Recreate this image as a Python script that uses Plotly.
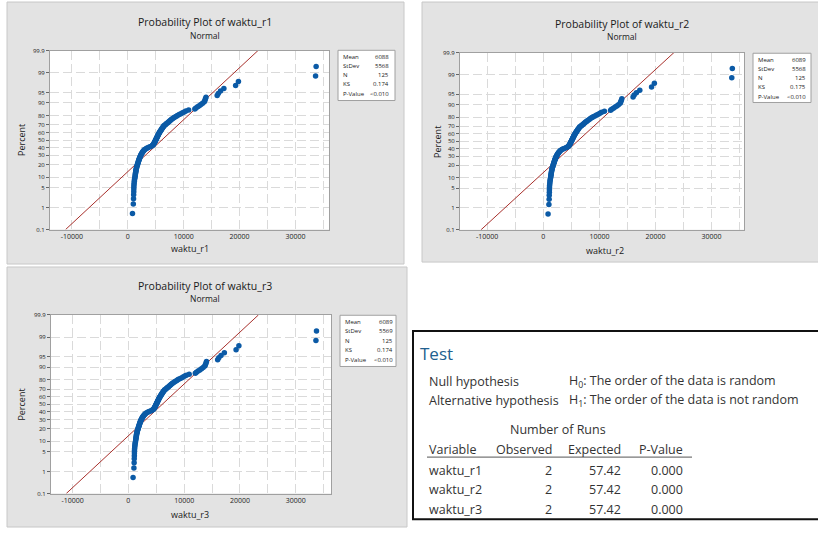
import plotly.graph_objects as go
from statistics import NormalDist

W, H = 818, 533
nd = NormalDist()

waktu_r1 = [850, 1000, 1040, 1060, 1080, 1090, 1100, 1120, 1150, 1180,
            1210, 1250, 1300, 1330, 1360, 1390, 1420, 1450, 1480, 1510,
            1550, 1590, 1630, 1680, 1730, 1780, 1820, 1870, 1910, 1960,
            2000, 2040, 2090, 2130, 2180, 2230, 2280, 2340, 2400, 2460,
            2530, 2600, 2680, 2760, 2850, 2950, 3050, 3200, 3400, 3600,
            3850, 4100, 4300, 4450, 4550, 4620, 4680, 4740, 4800, 4850,
            4900, 4950, 5000, 5050, 5100, 5150, 5200, 5250, 5300, 5350,
            5400, 5450, 5500, 5560, 5620, 5680, 5750, 5820, 5890, 5960,
            6030, 6100, 6180, 6260, 6340, 6420, 6500, 6700, 6800, 6950,
            7100, 7250, 7400, 7550, 7700, 7850, 8050, 8250, 8450, 8700,
            8900, 9200, 9500, 9800, 10100, 10400, 10900, 12000, 12200, 12500,
            12800, 13100, 13400, 13700, 13800, 13900, 14000, 16000, 16200, 16600,
            17200, 19300, 19800, 33600, 33700]
waktu_r2 = list(waktu_r1)
waktu_r3 = list(waktu_r1)

series_names = ["waktu_r1", "waktu_r2", "waktu_r3"]
series_values = [waktu_r1, waktu_r2, waktu_r3]
stats_labels = ["Mean", "StDev", "N", "KS", "P-Value"]
stats_r1 = ["6088", "5568", "125", "0.174", "<0.010"]
stats_r2 = ["6089", "5568", "125", "0.175", "<0.010"]
stats_r3 = ["6089", "5569", "125", "0.174", "<0.010"]
stats_all = [stats_r1, stats_r2, stats_r3]
fit_mean = [6088, 6089, 6089]
fit_sd = [5568, 5568, 5569]

pct_ticks = [0.1, 1, 5, 10, 20, 30, 40, 50, 60, 70, 80, 90, 95, 99, 99.9]
pct_labels = ["0.1", "1", "5", "10", "20", "30", "40", "50", "60", "70",
              "80", "90", "95", "99", "99.9"]
x_ticks = [-10000, 0, 10000, 20000, 30000]
x_labels = ["-10000", "0", "10000", "20000", "30000"]
x_minor = [-5000, 5000, 15000, 25000, 35000]

test_vars = ["waktu_r1", "waktu_r2", "waktu_r3"]
runs_observed = [2, 2, 2]
runs_expected = [57.42, 57.42, 57.42]
runs_pvalue = [0.000, 0.000, 0.000]

# ---- layout geometry (pixels) ----
panels = [
    dict(plot=(50, 329, 47.3, 229), bg=(7, 404, -2, 264), title=(205, 18, 32),
         xt=(190, 248), yt=(22, 138), box=(338, 395, 47, 98), lab_x=340.5,
         val_x=391, rows=[54, 63.3, 72.3, 81.7, 91.7], xr=(-13900, 36000)),
    dict(plot=(460, 744, 49.3, 229.3), bg=(422, 822, -2, 262), title=(621.7, 20, 33),
         xt=(605, 250.7), yt=(438, 140), box=(753, 811, 50, 100), lab_x=756,
         val_x=807.5, rows=[56.7, 66, 75, 84.3, 94.3], xr=(-14850, 35780)),
    dict(plot=(51, 331, 315.7, 497), bg=(7, 407, 267, 531), title=(205, 286, 299),
         xt=(190, 518), yt=(22, 406.7), box=(340, 396, 316, 368), lab_x=342.5,
         val_x=394.5, rows=[322.7, 332, 341.7, 351, 361], xr=(-13850, 36300)),
]


def px(x):
    return x / W


def py(y):
    return 1 - y / H


FONT = "Open Sans"
GRID = dict(gridcolor="#dadada", gridwidth=1.2, griddash="9px,4px")
zlo, zhi = nd.inv_cdf(0.001), nd.inv_cdf(0.999)
y_tickvals = [nd.inv_cdf(p / 100) for p in pct_ticks]

fig = go.Figure()
shapes = []
annotations = []

for k, (name, vals, pan) in enumerate(zip(series_names, series_values, panels)):
    n = len(vals)
    srt = sorted(vals)
    zpos = [nd.inv_cdf((i + 1 - 0.3) / (n + 0.4)) for i in range(n)]
    xa = "x" if k == 0 else f"x{k+1}"
    ya = "y" if k == 0 else f"y{k+1}"
    xl = "xaxis" if k == 0 else f"xaxis{k+1}"
    yl = "yaxis" if k == 0 else f"yaxis{k+1}"
    m, s = fit_mean[k], fit_sd[k]
    fig.add_trace(go.Scatter(x=[m + s * zlo, m + s * zhi], y=[zlo, zhi], mode="lines",
                             line=dict(color="#a8302c", width=1), xaxis=xa, yaxis=ya,
                             showlegend=False, hoverinfo="skip"))
    fig.add_trace(go.Scatter(x=srt, y=zpos, mode="markers",
                             marker=dict(color="#0b5aa6", size=5.5, line=dict(width=0)),
                             xaxis=xa, yaxis=ya, showlegend=False, name=name))
    x0, x1, y0, y1 = pan["plot"]
    fig.update_layout(**{
        xl: dict(domain=[px(x0), px(x1)], range=list(pan["xr"]), anchor=ya,
                 tickvals=x_ticks, ticktext=x_labels, ticks="", showgrid=True, **GRID,
                 minor=dict(tickvals=x_minor, showgrid=True, ticks="", **GRID),
                 zeroline=False, showline=True, linecolor="#a0a0a0", linewidth=1,
                 mirror=True, tickfont=dict(family=FONT, size=7, color="#222222")),
        yl: dict(domain=[py(y1), py(y0)], range=[zlo, zhi], anchor=xa,
                 tickvals=y_tickvals, ticktext=pct_labels, ticks="outside", ticklen=3,
                 tickcolor="#666666", showgrid=True, **GRID, zeroline=False,
                 showline=True, linecolor="#a0a0a0", linewidth=1, mirror=True,
                 tickfont=dict(family=FONT, size=6, color="#222222")),
    })
    bx0, bx1, by0, by1 = pan["bg"]
    shapes.append(dict(type="rect", xref="paper", yref="paper", x0=px(bx0), x1=px(bx1),
                       y0=py(by1), y1=py(by0), fillcolor="#e3e3e3",
                       line=dict(color="#c8c8c8", width=1), layer="below"))
    shapes.append(dict(type="rect", xref="paper", yref="paper", x0=px(x0), x1=px(x1),
                       y0=py(y1), y1=py(y0), fillcolor="white", line=dict(width=0),
                       layer="below"))
    # titles
    tx, ty1, ty2 = pan["title"]
    annotations.append(dict(x=px(tx), y=py(ty1), xref="paper", yref="paper",
                            text=f"Probability Plot of {name}", showarrow=False,
                            font=dict(family=FONT, size=10.5, color="#1a1a1a"),
                            xanchor="center", yanchor="middle"))
    annotations.append(dict(x=px(tx), y=py(ty2), xref="paper", yref="paper",
                            text="Normal", showarrow=False,
                            font=dict(family=FONT, size=8.5, color="#1a1a1a"),
                            xanchor="center", yanchor="middle"))
    annotations.append(dict(x=px(pan["xt"][0]), y=py(pan["xt"][1]), xref="paper",
                            yref="paper", text=name, showarrow=False,
                            font=dict(family=FONT, size=9, color="#1a1a1a"),
                            xanchor="center", yanchor="middle"))
    annotations.append(dict(x=px(pan["yt"][0]), y=py(pan["yt"][1]), xref="paper",
                            yref="paper", text="Percent", showarrow=False, textangle=-90,
                            font=dict(family=FONT, size=9, color="#1a1a1a"),
                            xanchor="center", yanchor="middle"))
    # stats box
    sx0, sx1, sy0, sy1 = pan["box"]
    shapes.append(dict(type="rect", xref="paper", yref="paper", x0=px(sx0), x1=px(sx1),
                       y0=py(sy1), y1=py(sy0), fillcolor="white",
                       line=dict(color="#a0a0a0", width=1)))
    for lab, val, ry in zip(stats_labels, stats_all[k], pan["rows"]):
        annotations.append(dict(x=px(pan["lab_x"]), y=py(ry), xref="paper", yref="paper",
                                text=lab, showarrow=False, xanchor="left",
                                yanchor="middle",
                                font=dict(family=FONT, size=6, color="#1a1a1a")))
        annotations.append(dict(x=px(pan["val_x"]), y=py(ry), xref="paper", yref="paper",
                                text=val, showarrow=False, xanchor="right",
                                yanchor="middle",
                                font=dict(family=FONT, size=6, color="#1a1a1a")))

# ---- runs test table ----
shapes.append(dict(type="rect", xref="paper", yref="paper", x0=px(413), x1=px(822),
                   y0=py(523), y1=py(332), fillcolor="white",
                   line=dict(color="#111111", width=2)))
shapes.append(dict(type="line", xref="paper", yref="paper", x0=px(427), x1=px(692),
                   y0=py(460), y1=py(460), line=dict(color="#555555", width=1)))
TF = "Open Sans"
TC = "#333333"


def tadd(x, y, text, anchor="left", size=12.5, color=TC):
    annotations.append(dict(x=px(x), y=py(y), xref="paper", yref="paper", text=text,
                            showarrow=False, xanchor=anchor, yanchor="middle",
                            font=dict(family=TF, size=size, color=color)))


tadd(418, 355, "Test", size=17, color="#21608f")
tadd(427, 383, "Null hypothesis")
tadd(567, 383, "H<sub>0</sub>: The order of the data is random")
tadd(427, 403, "Alternative hypothesis")
tadd(567, 403, "H<sub>1</sub>: The order of the data is not random")
tadd(558, 432, "Number of Runs", anchor="center")
tadd(427, 452, "Variable")
tadd(553.5, 452, "Observed", anchor="right")
tadd(623, 452, "Expected", anchor="right")
tadd(685, 452, "P-Value", anchor="right")
for v, o, e, p, ry in zip(test_vars, runs_observed, runs_expected, runs_pvalue,
                          [473.3, 492.7, 512.7]):
    tadd(427, ry, v)
    tadd(553.5, ry, str(o), anchor="right")
    tadd(623, ry, f"{e:.2f}", anchor="right")
    tadd(685, ry, f"{p:.3f}", anchor="right")

fig.update_layout(width=W, height=H, margin=dict(l=0, r=0, t=0, b=0),
                  paper_bgcolor="white", plot_bgcolor="white", shapes=shapes,
                  annotations=annotations, showlegend=False)
fig.write_html("out.html", config={"displayModeBar": False},
               post_script="document.body.style.margin='0';"
                           "document.body.style.overflow='hidden';")
